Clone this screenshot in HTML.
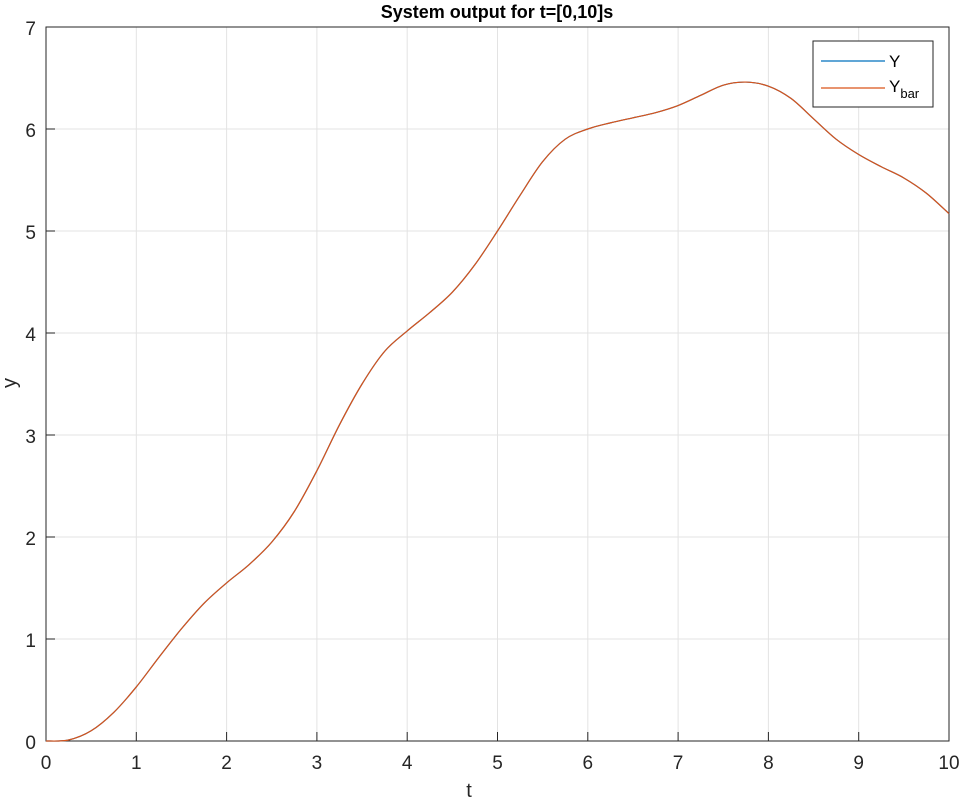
<!DOCTYPE html>
<html><head><meta charset="utf-8"><style>
body{margin:0;background:#fff;}
svg text{font-family:"Liberation Sans",sans-serif;}
</style></head><body>
<svg id="chart" width="963" height="800" xmlns="http://www.w3.org/2000/svg">
<rect width="963" height="800" fill="#fff"/>
<g id="grid"></g>
<g id="ticks"></g>
<rect x="46" y="27" width="903" height="714" fill="none" stroke="#262626" stroke-width="1"/>
<g id="series"></g>
<text x="497" y="18" text-anchor="middle" font-size="18" font-weight="bold" fill="#000">System output for t=[0,10]s</text>
<text x="469" y="797" text-anchor="middle" font-size="20" fill="#262626">t</text>
<text transform="translate(16,383) rotate(-90)" text-anchor="middle" font-size="20" fill="#262626">y</text>
<g>
<rect x="813" y="41" width="120" height="66" fill="#fff" stroke="#262626" stroke-width="1"/>
<line x1="821" y1="61" x2="885" y2="61" stroke="#0072BD" stroke-width="1.2"/>
<text x="889" y="67" font-size="17" fill="#000">Y</text>
<line x1="821" y1="88" x2="885" y2="88" stroke="#D95319" stroke-width="1.2"/>
<text x="889" y="92" font-size="17" fill="#000">Y<tspan font-size="13" dy="6">bar</tspan></text>
</g>
</svg>
<script>
const xTicks=[0,1,2,3,4,5,6,7,8,9,10];
const yTicks=[0,1,2,3,4,5,6,7];
const tVals=[0,0.25,0.5,0.75,1,1.25,1.5,1.75,2,2.25,2.5,2.75,3,3.25,3.5,3.75,4,4.25,4.5,4.75,5,5.25,5.5,5.75,6,6.25,6.5,6.75,7,7.25,7.5,7.75,8,8.25,8.5,8.75,9,9.25,9.5,9.75,10];
const yVals=[0,0.01,0.1,0.28,0.53,0.82,1.1,1.35,1.55,1.73,1.95,2.25,2.65,3.1,3.5,3.82,4.02,4.2,4.4,4.67,5.0,5.35,5.68,5.9,6.0,6.06,6.11,6.16,6.23,6.33,6.43,6.46,6.42,6.3,6.1,5.9,5.75,5.63,5.52,5.37,5.17];
const ybarVals=yVals.slice();
const NS="http://www.w3.org/2000/svg";
const X=t=>46+t*90.3, Y=v=>741-v*102;
const grid=document.getElementById('grid'), ticks=document.getElementById('ticks'), series=document.getElementById('series');
function mk(tag,attrs,parent){const e=document.createElementNS(NS,tag);for(const k in attrs)e.setAttribute(k,attrs[k]);parent.appendChild(e);return e;}
xTicks.forEach(t=>{
 const l=mk('line',{x1:X(t),x2:X(t),y1:27,y2:741,stroke:'#e3e3e3','stroke-width':1},grid);
 
 
 const k=mk('line',{x1:X(t),x2:X(t),y1:741,y2:732,stroke:'#262626'},ticks);
 
 
 const tx=mk('text',{x:X(t),y:769,'text-anchor':'middle','font-size':19,fill:'#262626'},ticks);
 tx.textContent=t;
 
 
});
yTicks.forEach(v=>{
 const l=mk('line',{x1:46,x2:949,y1:Y(v),y2:Y(v),stroke:'#e3e3e3','stroke-width':1},grid);
 
 
 const k=mk('line',{x1:46,x2:55,y1:Y(v),y2:Y(v),stroke:'#262626'},ticks);
 
 
 const tx=mk('text',{x:36,y:Y(v)+8,'text-anchor':'end','font-size':19,fill:'#262626'},ticks);
 tx.textContent=v;
 
 
});
function pathFor(vals){
 const p=tVals.map((t,i)=>[X(t),Y(vals[i])]);
 let d='M'+p[0][0]+','+p[0][1];
 for(let i=0;i<p.length-1;i++){
  const p0=p[Math.max(0,i-1)],p1=p[i],p2=p[i+1],p3=p[Math.min(p.length-1,i+2)];
  const c1=[p1[0]+(p2[0]-p0[0])/6,p1[1]+(p2[1]-p0[1])/6];
  const c2=[p2[0]-(p3[0]-p1[0])/6,p2[1]-(p3[1]-p1[1])/6];
  d+=`C${c1[0]},${c1[1]} ${c2[0]},${c2[1]} ${p2[0]},${p2[1]}`;
 }
 return d;
}
const a=mk('path',{d:pathFor(yVals),fill:'none',stroke:'#0072BD','stroke-width':1.2},series);


const b=mk('path',{d:pathFor(ybarVals),fill:'none',stroke:'#D95319','stroke-width':1.2},series);


</script>
</body></html>
